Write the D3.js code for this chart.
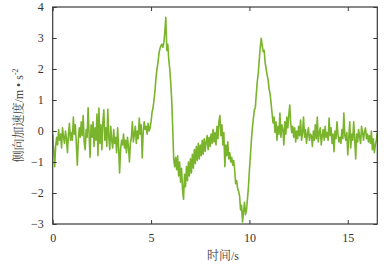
<!DOCTYPE html>
<html><head><meta charset="utf-8">
<script src="https://cdn.jsdelivr.net/npm/d3@7/dist/d3.min.js"></script>
<style>body{margin:0;background:#fff}svg{display:block}</style>
</head><body>
<script>
const dt = 0.05;
const accel = [
// 0-1
-0.1,-0.6,-1.15,-0.5,-0.2,-0.45,0.05,-0.3,-0.1,-0.55,0.1,-0.2,-0.4,0.0,-0.25,-0.7,-0.1,0.25,-0.3,-0.05,
// 1-2
-0.3,0.45,-0.1,0.2,-0.4,-1.1,-0.3,0.1,-0.2,0.3,-0.15,0.5,-0.35,-0.6,0.05,-0.2,0.75,-0.1,-0.85,0.2,
// 2-3
-0.2,0.3,-0.5,0.1,-0.3,0.55,-0.8,0.74,-0.4,0.2,-0.6,0.3,0.68,-0.3,0.1,-0.5,0.7,-0.2,-0.6,0.15,
// 3-4
-0.3,-0.55,0.05,-0.4,-0.2,-0.7,0.1,-0.5,-1.35,-0.6,-0.3,-0.45,-0.1,-0.55,-0.3,-0.7,-0.2,-0.5,-1.0,-0.4,
// 4-5
-0.2,0.3,-0.35,-0.1,0.15,-0.4,0.0,-0.25,0.42,-0.1,0.2,-0.87,-0.05,0.3,0.05,0.15,-0.1,0.25,0.0,0.1,
// 5-6
0.3,0.6,0.75,1.0,1.3,1.7,2.0,2.2,2.5,2.65,2.75,2.8,2.7,2.85,3.2,3.67,2.6,2.8,2.3,2.0,
// 6-7
1.55,1.0,0.1,-0.9,-1.15,-0.85,-1.25,-0.8,-1.45,-1.0,-1.65,-1.2,-1.9,-2.2,-1.4,-1.8,-1.15,-1.6,-1.0,-1.45,
// 7-8
-0.9,-1.35,-0.75,-1.2,-0.6,-1.05,-0.5,-0.95,-0.4,-0.9,-0.45,-0.8,-0.3,-0.75,-0.25,-0.65,-0.35,-0.15,-0.6,-0.2,
// 8-9
-0.5,-0.1,-0.4,0.05,-0.35,-0.05,-0.45,0.15,-0.25,0.3,0.5,-0.15,0.2,-0.45,-0.05,-1.15,-0.45,-0.8,-0.35,-0.9,
// 9-10
-0.7,-1.0,-0.85,-1.1,-0.95,-1.25,-1.7,-1.6,-1.85,-1.95,-2.1,-2.55,-2.4,-2.93,-2.6,-2.3,-2.7,-2.55,-2.2,-1.8,
// 10-11
-1.26,-0.8,-0.29,0.1,0.4,0.68,0.75,1.2,1.6,1.87,2.3,2.7,2.99,2.75,2.56,2.6,2.2,2.0,1.8,1.65,
// 11-12
1.35,1.2,0.9,0.58,0.26,0.45,-0.05,0.3,-0.3,0.15,-0.1,0.58,-0.2,0.2,0.05,-0.45,0.3,-0.1,0.45,0.1,
// 12-13
0.5,0.84,0.25,-0.05,0.15,-0.2,0.1,-0.35,0.0,-0.25,0.15,-0.15,0.35,-0.3,-0.05,0.45,-0.2,0.05,-0.4,-0.1,
// 13-14
0.1,-0.3,-0.1,-0.15,-0.5,0.0,-0.3,0.2,-0.25,0.45,-0.35,-0.05,0.1,-0.45,-0.15,0.05,-0.3,0.15,-0.2,-0.05,
// 14-15
-0.3,0.42,-0.15,0.1,-0.4,-0.1,-0.67,0.0,-0.25,0.3,-0.1,-0.35,-0.2,-0.4,0.05,-0.25,0.58,-0.15,-0.3,-0.05,
// 15-16
-0.77,-0.2,0.3,-0.55,-0.1,-0.3,0.3,-0.25,-0.9,-0.1,-0.35,0.05,-0.2,-0.4,0.15,-0.05,-0.3,0.0,0.1,-0.25,
// 16-16.5
-0.1,-0.35,-0.15,-0.4,0.0,-0.6,-0.25,-0.7,-0.45,-0.3,-0.06
];
const xTicks = [0, 5, 10, 15];
const yTicks = [-3, -2, -1, 0, 1, 2, 3, 4];
const xTitle = "时间/s";
const yTitle = "侧向加速度/m • s";
const yTitleSup = "-2";

const W = 389, H = 269;
const m = {left: 52.7, right: 377.3, top: 7, bottom: 224};
const svg = d3.select("body").append("svg").attr("width", W).attr("height", H);

const x = d3.scaleLinear().domain([0, 16.5]).range([m.left, m.right]);
const y = d3.scaleLinear().domain([-3, 4]).range([m.bottom, m.top]);

const data = accel.map((v, i) => ({t: i * dt, v}));

const line = d3.line().x(d => x(d.t)).y(d => y(d.v));
svg.append("path").datum(data)
  .attr("d", line).attr("fill", "none")
  .attr("stroke", "#7ab32c").attr("stroke-width", 1.6).attr("stroke-linejoin", "round");

const tickFont = "'Times New Roman','Liberation Serif','DejaVu Serif',serif";
const axCol = "#3a3a3a";
const tl = 4;

function styleAxis(g) {
  g.attr("font-family", null).attr("font-size", null);
  g.select(".domain").remove();
  g.selectAll(".tick line").attr("stroke", axCol);
  g.selectAll(".tick text").attr("fill", "#333").attr("font-family", tickFont).attr("font-size", 12);
}
// bottom
svg.append("g").attr("transform", `translate(0,${m.bottom})`)
  .call(d3.axisBottom(x).tickValues(xTicks).tickSize(-tl).tickPadding(9).tickFormat(d3.format("d")))
  .call(styleAxis);
// top
svg.append("g").attr("transform", `translate(0,${m.top})`)
  .call(d3.axisTop(x).tickValues(xTicks).tickSize(-tl).tickFormat(""))
  .call(styleAxis);
// left
svg.append("g").attr("transform", `translate(${m.left},0)`)
  .call(d3.axisLeft(y).tickValues(yTicks).tickSize(-tl).tickPadding(9).tickFormat(d3.format("d")))
  .call(styleAxis);
// right
svg.append("g").attr("transform", `translate(${m.right},0)`)
  .call(d3.axisRight(y).tickValues(yTicks).tickSize(-tl).tickFormat(""))
  .call(styleAxis);

// frame
svg.append("rect").attr("x", m.left).attr("y", m.top)
  .attr("width", m.right - m.left).attr("height", m.bottom - m.top)
  .attr("fill", "none").attr("stroke", axCol).attr("stroke-width", 1.2);

// titles
const titleFont = "'Times New Roman','Liberation Serif','Noto Serif CJK SC','Noto Sans CJK SC',serif";
svg.append("text").attr("x", 223).attr("y", 260).attr("text-anchor", "middle")
  .attr("fill", "#444").attr("font-family", titleFont)
  .attr("font-size", 12).text(xTitle);

const yt = svg.append("text").attr("transform", `translate(23,${(m.top + m.bottom) / 2}) rotate(-90)`)
  .attr("text-anchor", "middle").attr("fill", "#444")
  .attr("font-family", titleFont).attr("font-size", 12);
yt.append("tspan").text(yTitle);
yt.append("tspan").attr("dy", -5).attr("font-size", 8).text(yTitleSup);
</script>
</body></html>
